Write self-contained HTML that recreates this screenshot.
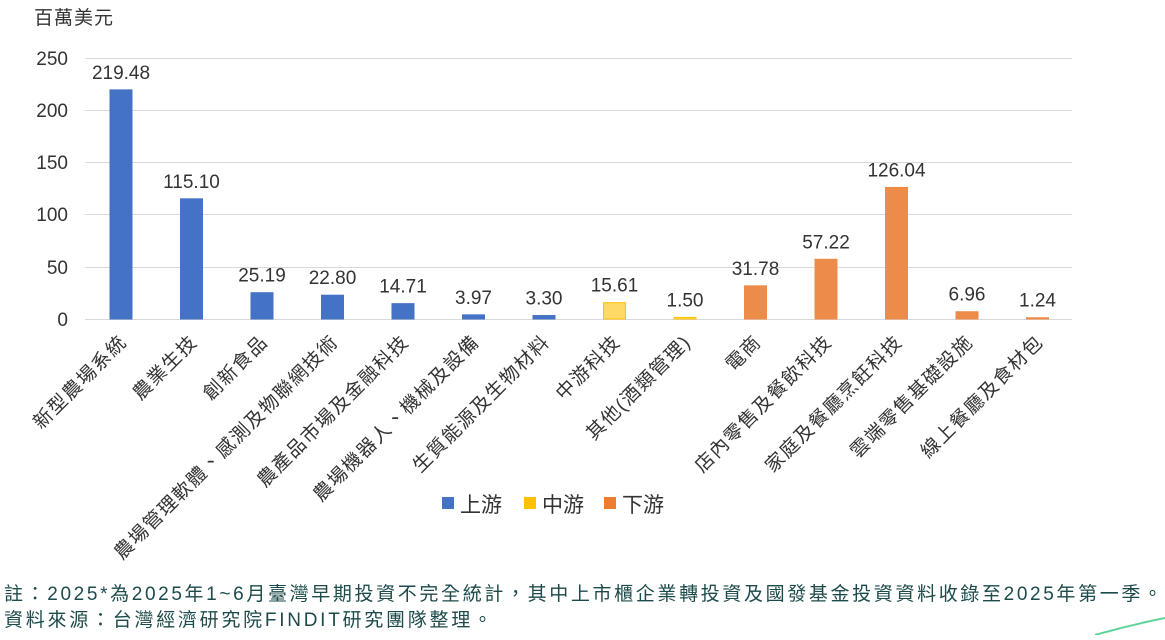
<!DOCTYPE html>
<html><head><meta charset="utf-8"><style>
body{margin:0;background:#fff;width:1165px;height:635px;overflow:hidden}
svg{font-family:"Liberation Sans","Noto Sans CJK TC",sans-serif}
</style></head><body>
<svg width="1165" height="635" xmlns="http://www.w3.org/2000/svg">
<text x="34" y="24" font-size="19" fill="#333" letter-spacing="1">百萬美元</text>
<g stroke="#d9d9d9" stroke-width="1">
<line x1="85" x2="1072" y1="58.5" y2="58.5"/><line x1="85" x2="1072" y1="110.5" y2="110.5"/>
<line x1="85" x2="1072" y1="162.5" y2="162.5"/><line x1="85" x2="1072" y1="214.5" y2="214.5"/>
<line x1="85" x2="1072" y1="267.5" y2="267.5"/><line x1="85" x2="1072" y1="319.5" y2="319.5"/>
</g>
<g font-size="19" fill="#333" text-anchor="end">
<text x="68" y="65">250</text><text x="68" y="117">200</text><text x="68" y="169">150</text>
<text x="68" y="221">100</text><text x="68" y="274">50</text><text x="68" y="326">0</text>
</g>
<g id="bars"></g>
<g font-size="19" fill="#333" text-anchor="middle" id="vals"></g>
<g font-size="19" fill="#333" text-anchor="end" letter-spacing="1.5" id="cats"></g>
<g font-size="21" fill="#333">
<rect x="442" y="497" width="12" height="12" fill="#4472C4"/><text x="460" y="512">上游</text>
<rect x="524" y="497" width="12" height="12" fill="#FFC000"/><text x="542" y="512">中游</text>
<rect x="604" y="497" width="12" height="12" fill="#ED7D31"/><text x="622" y="512">下游</text>
</g>
<g font-size="19" fill="#1d4a4a">
<text x="4" y="600" textLength="1158" lengthAdjust="spacing">註：2025*為2025年1~6月臺灣早期投資不完全統計，其中上市櫃企業轉投資及國發基金投資資料收錄至2025年第一季。</text>
<text x="4" y="626" textLength="488" lengthAdjust="spacing">資料來源：台灣經濟研究院FINDIT研究團隊整理。</text>
</g>
<path d="M1095 635 Q1130 625 1165 618" stroke="#5fd39a" stroke-width="2" fill="none"/>
<script>
var d=[["新型農場系統",219.48,0],["農業生技",115.10,0],["創新食品",25.19,0],["農場管理軟體、感測及物聯網技術",22.80,0],["農產品市場及金融科技",14.71,0],["農場機器人、機械及設備",3.97,0],["生質能源及生物材料",3.30,0],["中游科技",15.61,1],["其他(酒類管理)",1.50,1],["電商",31.78,2],["店內零售及餐飲科技",57.22,2],["家庭及餐廳烹飪科技",126.04,2],["雲端零售基礎設施",6.96,2],["線上餐廳及食材包",1.24,2]];
var fill=["#4472C4","#FFD966","#ED8C4A"],st=["#4472C4","#FFC000","#ED8C4A"];
var ns="http://www.w3.org/2000/svg";
function el(t,a,p,tx){var e=document.createElementNS(ns,t);for(var k in a)e.setAttribute(k,a[k]);if(tx)e.textContent=tx;document.getElementById(p).appendChild(e);}
d.forEach(function(r,i){var c=121+70.5*i,h=r[1]*1.044,y=319-h;
el("rect",{x:c-11,y:y,width:22,height:h,fill:fill[r[2]],stroke:st[r[2]],"stroke-width":1},"bars");
el("text",{x:c,y:y-11},"vals",r[1].toFixed(2));
el("text",{x:c+7,y:343,transform:"rotate(-45 "+(c+7)+" 343)"},"cats",r[0]);});
</script>
</svg>
</body></html>
